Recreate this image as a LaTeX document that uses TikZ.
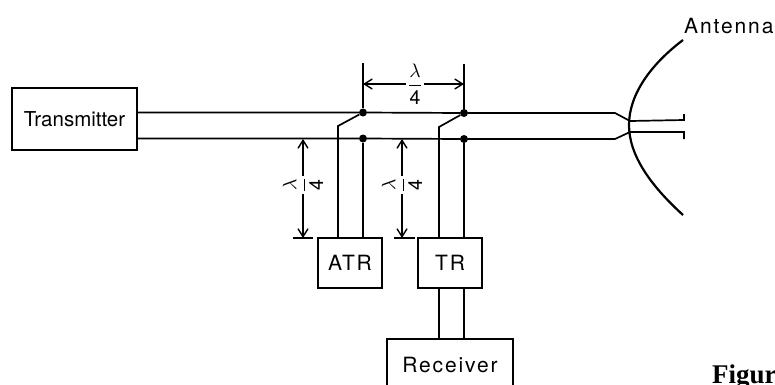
\documentclass[tikz,border=0pt]{standalone}
\usepackage{fontspec}
\setmainfont{TeX Gyre Heros}
\newfontfamily\spaced[LetterSpace=9]{TeX Gyre Heros}
\newfontfamily\figfont{Liberation Serif}
\usetikzlibrary{arrows.meta,calc}
\newcommand{\lamfrac}{$\displaystyle\frac{\lambda}{\hbox{4}}$}
\tikzset{
  wire/.style={line width=1.7pt,black},
  thick wire/.style={line width=2.2pt,black},
  unitbox/.style={draw,line width=2.2pt,inner sep=0pt,font=\fontsize{21}{22}\selectfont\spaced,text depth=0pt},
  dotnode/.style={circle,fill=black,inner sep=0pt,minimum size=8pt},
  dim/.style={line width=1.2pt,{Straight Barb[length=8pt,width=10pt,line width=1.4pt]}-{Straight Barb[length=8pt,width=10pt,line width=1.4pt]}},
  tick/.style={line width=1.3pt},
  frac/.style={inner sep=0.5pt,fill=white,scale=1.95}
}
\begin{document}
\begin{tikzpicture}[x=1pt,y=-1pt]
\useasboundingbox (0,0) rectangle (775,384);
\clip (0,0) rectangle (775,384);
\fill[white] (0,0) rectangle (775,384);
% boxes
\node[unitbox,font=\fontsize{20.5}{22}\selectfont,minimum width=125pt,minimum height=62pt] (tx) at (74.5,119) {Transmitter};
\node[unitbox,minimum width=64pt,minimum height=50pt] (atr) at (350,263) {ATR};
\node[unitbox,minimum width=64pt,minimum height=50pt] (tr) at (450,263) {TR};
\node[draw,line width=2.2pt,inner sep=0pt,minimum width=126pt,minimum height=54pt] (rx) at (450,366) {};
\node[font=\fontsize{21}{22}\selectfont\spaced,inner sep=0pt] (rxt) at (450,365) {Receiver};
% junction dots
\node[dotnode] (d1) at (363,112.5) {};
\node[dotnode] (d2) at (464,113) {};
\node[dotnode] (d3) at (363,138.5) {};
\node[dotnode] (d4) at (464,139) {};
% free points
\coordinate (s1) at (338,126);
\coordinate (s2) at (439,127);
\coordinate (u1) at (615,113);
\coordinate (u2) at (630,121);
\coordinate (l1) at (615,139);
\coordinate (l2) at (630,132);
\coordinate (f1) at (684,120);
\coordinate (f1t) at (684,114);
\coordinate (f2) at (684,132);
\coordinate (f2t) at (684,139);
% lines
\draw[wire] (tx.east |- d1) -- (d1) -- (d2) -- (u1) -- (u2) -- (f1) -- (f1t);
\draw[wire] (tx.east |- d3) -- (d3) -- (d4) -- (l1) -- (l2) -- (f2) -- (f2t);
% stubs
\draw[wire] (d1) -- (s1) -- (s1 |- atr.north);
\draw[wire] (d3) -- (d3 |- atr.north);
\draw[wire] (d2) -- (s2) -- (s2 |- tr.north);
\draw[wire] (d4) -- (d4 |- tr.north);
\draw[wire] (s2 |- tr.south) -- (s2 |- rx.north);
\draw[wire] (d4 |- tr.south) -- (d4 |- rx.north);
% antenna
\coordinate (ant1) at (683,40);
\coordinate (ant2) at (629,125);
\coordinate (ant3) at (683,215);
\draw[thick wire] (ant1) .. controls (650,65) and (629,95) .. (ant2) .. controls (629,155) and (650,185) .. (ant3);
\node[font=\fontsize{21}{22}\selectfont\spaced,inner sep=0pt,anchor=base west] (antl) at (684,33) {Antenna};
% top dimension
\coordinate (t1) at (363,63);
\coordinate (t2) at (464,64);
\draw[tick] (t1) -- (d1);
\draw[tick] (t2) -- (d2);
\coordinate (a1) at (363,84);
\coordinate (a2) at (464,84);
\draw[dim] (a1) -- (a2);
\node[frac] (ft) at (415,84) {\lamfrac};
% left dimensions
\coordinate (b1t) at (303,139);
\coordinate (b1b) at (303,238);
\coordinate (b2t) at (402,139);
\coordinate (b2b) at (402,238);
\draw[dim] (b1t) -- (b1b);
\draw[dim] (b2t) -- (b2b);
\coordinate (k1a) at (293,238);
\coordinate (k1b) at (313,238);
\coordinate (k2a) at (394,238);
\coordinate (k2b) at (415,238);
\draw[tick] (k1a) -- (k1b);
\draw[tick] (k2a) -- (k2b);
\node[frac,rotate=90] (fa) at (303,185) {\lamfrac};
\node[frac,rotate=90] (fb) at (402,185) {\lamfrac};
% caption fragment
\node[font=\fontsize{27}{27}\selectfont\figfont\bfseries,inner sep=0pt,anchor=base west] (cap) at (712,383) {Figur};
\end{tikzpicture}
\end{document}
